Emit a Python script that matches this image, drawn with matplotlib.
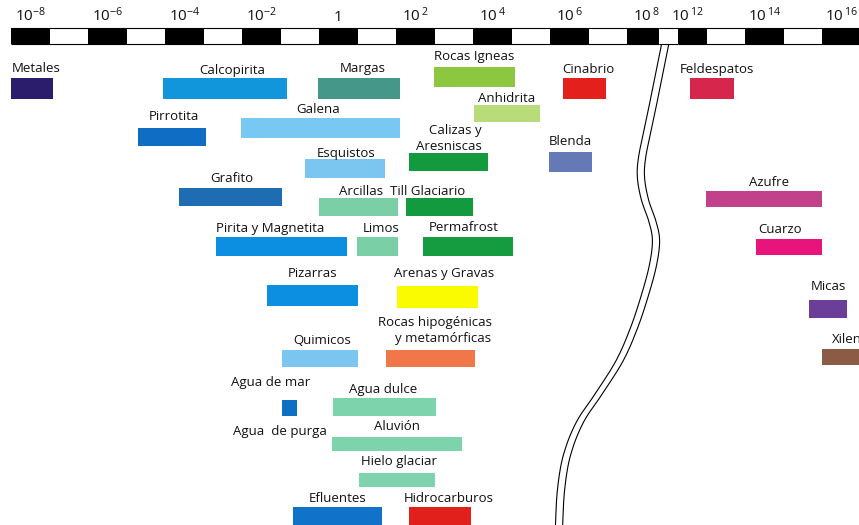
import numpy as np
import matplotlib
matplotlib.use("Agg")
import matplotlib.pyplot as plt
from matplotlib.lines import Line2D

plt.rcParams['font.family'] = ['Open Sans', 'DejaVu Sans']
plt.rcParams['mathtext.fontset'] = 'custom'
plt.rcParams['mathtext.rm'] = 'Open Sans'
plt.rcParams['mathtext.it'] = 'Open Sans:italic'
plt.rcParams['mathtext.bf'] = 'Open Sans:bold'

# ---------------- data: resistivity ranges, log10(ohm·m) ----------------
materials = ["Metales", "Calcopirita", "Margas", "Rocas Igneas", "Cinabrio", "Feldespatos",
             "Pirrotita", "Galena", "Anhidrita", "Calizas y\nAresniscas", "Blenda",
             "Esquistos", "Grafito", "Arcillas", "Till Glaciario", "Azufre",
             "Pirita y Magnetita", "Limos", "Permafrost", "Cuarzo", "Pizarras",
             "Arenas y Gravas", "Micas", "Quimicos", "Rocas hipogénicas\ny metamórficas",
             "Xileno", "Agua de mar", "Agua dulce", "Aluvión", "Hielo glaciar",
             "Efluentes", "Hidrocarburos"]
log_min = [-8.50, -4.55, -0.53, 2.49, 5.84, 12.06,
           -5.20, -2.53, 3.52, 1.84, 5.47,
           -0.86, -4.14, -0.50, 1.76, 12.48,
           -3.18, 0.49, 2.20, 13.78, -1.85,
           1.52, 15.16, -1.46, 1.24,
           15.49, -1.46, -0.14, -0.17, 0.53,
           -1.18, 1.84]
log_max = [-7.41, -1.33, 1.60, 4.59, 6.95, 13.21,
           -3.44, 1.60, 5.24, 3.89, 6.59,
           1.21, -1.46, 1.55, 3.50, 15.49,
           0.23, 1.55, 4.54, 15.49, 0.51,
           3.63, 16.14, 0.51, 3.55,
           17.00, -1.07, 2.54, 3.21, 2.51,
           1.13, 3.45]
colors = ["#2b1d6c", "#1196dc", "#449789", "#8dc63f", "#e3201b", "#d7264b",
          "#0f6ec3", "#79c7f3", "#b9dc7a", "#139a3e", "#6479b5",
          "#7ac6f1", "#1e6db3", "#7bcfa6", "#139a3e", "#c1428b",
          "#0c8fe0", "#7bcfa6", "#169c40", "#e8137b", "#0c8fe0",
          "#fbfb00", "#6b3f97", "#7ac6f1", "#ef774a",
          "#8c5b45", "#0d70c5", "#7dd3ab", "#7dd3ab", "#7dd3ab",
          "#1072c8", "#e2201b"]
extra_label = "Agua  de purga"      # second label of the "Agua de mar" bar

tick_exp_left = [-8, -6, -4, -2, 0, 2, 4, 6, 8]
tick_exp_right = [12, 14, 16]

# ---------------- layout (pixels from top) ----------------
bar_top = [78, 78, 78, 67, 78, 78,
           128, 118, 105, 153, 152,
           159, 188, 198, 198, 191,
           237, 237, 237, 239, 285,
           286, 300, 350, 350,
           349, 400, 398, 437, 473,
           507, 507]
bar_h = [21, 21, 21, 20, 21, 21,
         18, 20, 17, 18, 20,
         19, 18, 18, 18, 16,
         19, 19, 19, 16, 21,
         22, 18, 17, 17,
         16, 16, 18, 14, 14,
         20, 20]
label_base = [72, 74, 72, 60, 73, 73,
              120, 113, 102, 150, 145,
              157, 182, 195, 195, 186,
              232, 232, 231, 233, 277,
              277, 290, 344, 342,
              343, 386, 393, 430, 465,
              502, 502]
label_dx = [4, 7, 4, 0, 4, 5,
            2, -2, 0, 0, 0,
            1, 1, 3, -12, 5,
            -11, 4, -4, -9, 0,
            7, 0, 2, 4,
            0, -19, -1, 0, 2,
            0, 9]
extra_base, extra_dx = 435, -10

W, H = 859, 525
D = 38.5                     # pixels per decade
X0_LEFT = 30.3               # pixel of 10^-8
X14_RIGHT = 764.5            # pixel of 10^14
BAR_Y0, BAR_Y1 = 28, 44      # scale bar
SPLIT = 678                  # pixel where right axes begins
BREAK_L = (659 - X0_LEFT) / D - 8   # end of left scale before the break

fig = plt.figure(figsize=(W / 100, H / 100), dpi=100)
fig.patch.set_facecolor("white")

axh = (H - BAR_Y0) / H
axL = fig.add_axes([0, 0, SPLIT / W, axh])
axR = fig.add_axes([SPLIT / W, 0, (W - SPLIT) / W, axh])

left_lim = (-8 - X0_LEFT / D, -8 + (SPLIT - X0_LEFT) / D)
right_lim = (14 + (SPLIT - X14_RIGHT) / D, 14 + (W - X14_RIGHT) / D)

for ax, lim in ((axL, left_lim), (axR, right_lim)):
    ax.set_xscale("log")
    ax.set_xlim(10 ** lim[0], 10 ** lim[1])
    ax.set_ylim(H, BAR_Y0)
    for s in ax.spines.values():
        s.set_visible(False)
    ax.yaxis.set_visible(False)
    ax.xaxis.tick_top()
    ax.tick_params(axis="x", which="both", length=0, pad=2.5, labelsize=11,
                   labelcolor="#111111")
    ax.xaxis.set_minor_locator(matplotlib.ticker.NullLocator())
    ax.patch.set_alpha(0)


def tick_text(e):
    if e == 0:
        return "1"
    if e < 0:
        return r"$\mathregular{10^{%d}}$" % e
    return r"$\mathregular{10^{\,%d}}$" % e


axL.set_xticks([10.0 ** e for e in tick_exp_left])
axL.set_xticklabels([tick_text(e) for e in tick_exp_left])
axR.set_xticks([10.0 ** e for e in tick_exp_right])
axR.set_xticklabels([tick_text(e) for e in tick_exp_right])

# scale bar (checkerboard, black centred on even powers)
ymid = (BAR_Y0 + BAR_Y1) / 2
bh = BAR_Y1 - BAR_Y0


def scale_bar(ax, exps, lo, hi):
    ax.hlines([BAR_Y0, BAR_Y1], 10 ** lo, 10 ** hi, color="black", lw=0.8, clip_on=False)
    for e in exps:
        a, b = max(e - 0.5, lo), min(e + 0.5, hi)
        ax.barh(ymid, 10 ** b - 10 ** a, left=10 ** a, height=bh, color="black",
                lw=0, clip_on=False)


scale_bar(axL, tick_exp_left, -8.5, min(BREAK_L, left_lim[1]))
axL.hlines([BAR_Y0, BAR_Y1], 10 ** BREAK_L, 10 ** left_lim[1], color="black", lw=0.8,
           clip_on=False)
scale_bar(axR, tick_exp_right, right_lim[0], right_lim[1])

# material bars and labels
for i, name in enumerate(materials):
    ax = axR if log_min[i] > 10 else axL
    lo, hi = 10 ** log_min[i], 10 ** log_max[i]
    ax.barh(bar_top[i] + bar_h[i] / 2, hi - lo, left=lo, height=bar_h[i],
            color=colors[i], lw=0)
    xc = 10 ** ((log_min[i] + log_max[i]) / 2)
    ax.annotate(name, xy=(xc, label_base[i]), xytext=(label_dx[i] * 0.72, 0),
                textcoords="offset points", ha="center", va="baseline",
                multialignment="right", fontsize=9.5, color="#111111",
                annotation_clip=False, linespacing=1.25)

i_mar = materials.index("Agua de mar")
xc = 10 ** ((log_min[i_mar] + log_max[i_mar]) / 2)
axL.annotate(extra_label, xy=(xc, extra_base), xytext=(extra_dx * 0.72, 0),
             textcoords="offset points", ha="center", va="baseline",
             fontsize=9.5, color="#111111", annotation_clip=False)

# decorative axis-break curve (two parallel lines)
centre = [(665, 45), (661, 65), (655, 95), (648, 128), (642, 158), (641, 178),
          (645, 200), (652, 220), (656, 240), (653, 265), (645, 295), (634, 328),
          (620, 360), (600, 392), (580, 422), (567, 455), (561, 490), (559, 527)]


def smooth(pts, n=14):
    P = np.array(pts, float)
    P = np.vstack([P[0], P, P[-1]])
    out = []
    for k in range(1, len(P) - 2):
        p0, p1, p2, p3 = P[k - 1], P[k], P[k + 1], P[k + 2]
        for t in np.linspace(0, 1, n, endpoint=False):
            out.append(0.5 * (2 * p1 + (-p0 + p2) * t + (2 * p0 - 5 * p1 + 4 * p2 - p3) * t ** 2
                              + (-p0 + 3 * p1 - 3 * p2 + p3) * t ** 3))
    out.append(P[-2])
    return np.array(out)


curve = smooth(centre)
for off in (-3.6, 3.6):
    xs = (curve[:, 0] + off) / W
    ys = 1 - curve[:, 1] / H
    fig.add_artist(Line2D(xs, ys, transform=fig.transFigure, color="black", lw=0.8))

fig.savefig("out.png", dpi=100)
